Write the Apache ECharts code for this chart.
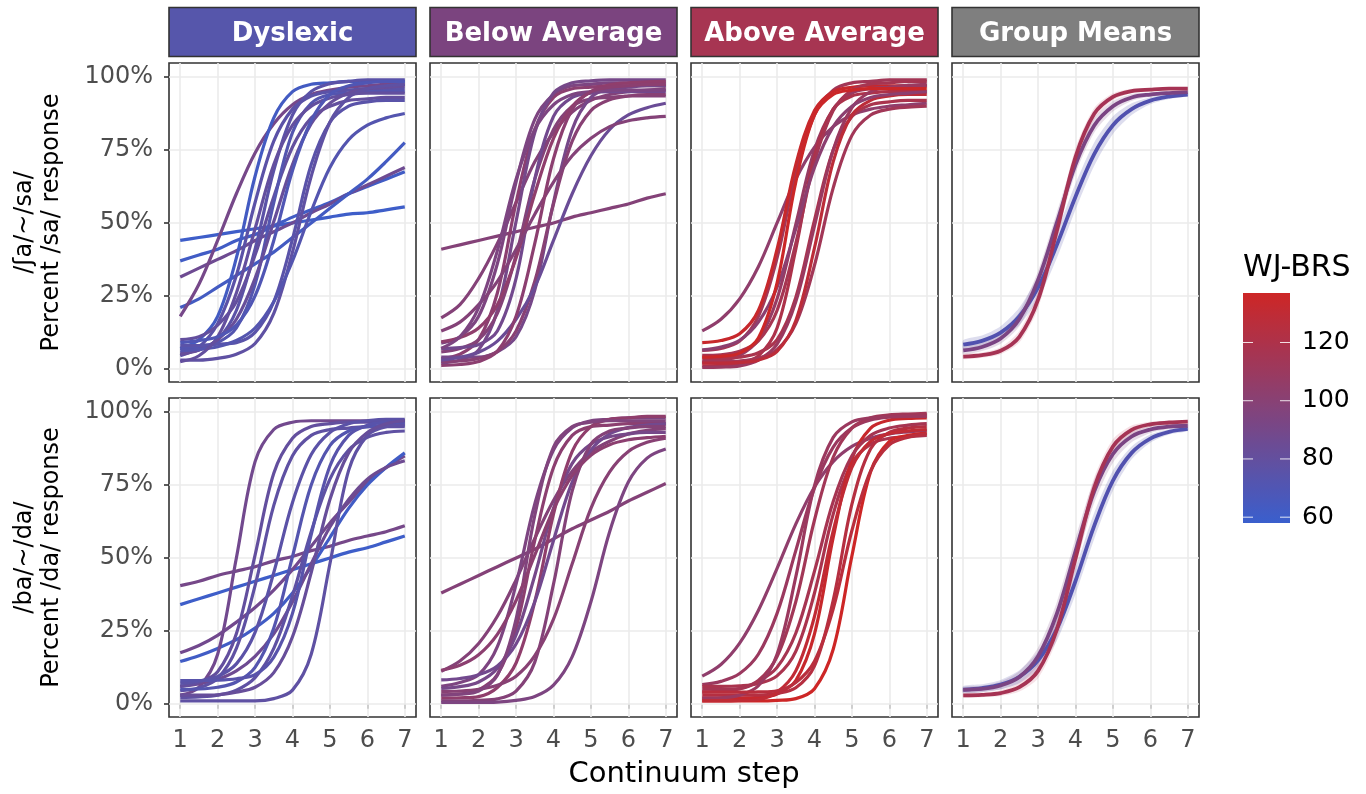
<!DOCTYPE html>
<html><head><meta charset="utf-8">
<script src="https://cdn.jsdelivr.net/npm/echarts@6.0.0/dist/echarts.min.js"></script>
<style>html,body{margin:0;padding:0;background:#fff}#c{width:1366px;height:794px}</style>
</head><body><div id="c"></div><script>
// ---------- data ----------
const STEPS = [1,1.5,2,2.5,3,3.5,4,4.5,5,5.5,6,6.5,7];
const X_TICKS = [1,2,3,4,5,6,7];
const Y_TICKS = [0,0.25,0.5,0.75,1];
const GROUPS = ['Dyslexic','Below Average','Above Average','Group Means'];
const ROW_TITLES = ['/ʃa/~/sa/\nPercent /sa/ response','/ba/~/da/\nPercent /da/ response'];
const X_TITLE = 'Continuum step';
const LEGEND_TITLE = 'WJ-BRS';
const WJ_TICKS = [60,80,100,120];
const WJ_RANGE = [58,137];

// /ʃa/~/sa/ — Dyslexic
const SA_DYS_WJ = [60,62,86,63,90,63,76,76,80,72,82,75,78,72,80,70];
const SA_DYS_P = [
 [0.44,0.45,0.46,0.47,0.48,0.49,0.50,0.51,0.52,0.53,0.535,0.545,0.555],
 [0.37,0.39,0.41,0.44,0.46,0.49,0.52,0.545,0.57,0.60,0.625,0.65,0.675],
 [0.315,0.345,0.375,0.405,0.44,0.47,0.50,0.535,0.565,0.60,0.63,0.66,0.69],
 [0.21,0.24,0.28,0.32,0.36,0.40,0.45,0.50,0.55,0.60,0.65,0.71,0.775],
 [0.18,0.29,0.44,0.60,0.74,0.84,0.905,0.94,0.955,0.965,0.97,0.975,0.975],
 [0.07,0.10,0.18,0.38,0.66,0.86,0.95,0.975,0.98,0.985,0.985,0.985,0.985],
 [0.045,0.075,0.155,0.32,0.57,0.78,0.89,0.935,0.95,0.955,0.96,0.96,0.96],
 [0.055,0.065,0.10,0.20,0.41,0.68,0.87,0.95,0.977,0.985,0.99,0.99,0.99],
 [0.10,0.11,0.15,0.23,0.39,0.59,0.76,0.86,0.90,0.92,0.925,0.93,0.93],
 [0.07,0.075,0.09,0.14,0.29,0.57,0.81,0.91,0.94,0.945,0.95,0.95,0.95],
 [0.05,0.065,0.10,0.17,0.31,0.505,0.70,0.84,0.91,0.945,0.96,0.965,0.97],
 [0.08,0.08,0.085,0.09,0.125,0.23,0.445,0.70,0.845,0.90,0.915,0.92,0.92],
 [0.03,0.03,0.036,0.05,0.087,0.19,0.40,0.66,0.845,0.93,0.96,0.97,0.975],
 [0.063,0.067,0.076,0.097,0.14,0.23,0.37,0.54,0.69,0.785,0.835,0.86,0.875],
 [0.025,0.045,0.11,0.26,0.48,0.70,0.835,0.90,0.928,0.94,0.945,0.945,0.945],
 [0.09,0.097,0.11,0.15,0.25,0.44,0.68,0.85,0.94,0.97,0.98,0.985,0.985]
];
// /ʃa/~/sa/ — Below Average
const SA_BEL_WJ = [98,98,94,102,90,98,88,104,90,100,84,98,94,102];
const SA_BEL_P = [
 [0.41,0.425,0.44,0.455,0.47,0.485,0.50,0.52,0.535,0.55,0.565,0.585,0.60],
 [0.175,0.22,0.31,0.43,0.57,0.71,0.81,0.88,0.92,0.94,0.95,0.955,0.96],
 [0.088,0.11,0.18,0.36,0.64,0.855,0.94,0.97,0.975,0.98,0.98,0.98,0.98],
 [0.035,0.05,0.10,0.26,0.57,0.82,0.93,0.96,0.965,0.97,0.97,0.97,0.97],
 [0.02,0.03,0.065,0.20,0.505,0.81,0.945,0.98,0.987,0.99,0.99,0.99,0.99],
 [0.058,0.07,0.10,0.19,0.39,0.65,0.82,0.90,0.925,0.93,0.935,0.935,0.935],
 [0.07,0.073,0.083,0.13,0.31,0.65,0.865,0.93,0.945,0.95,0.95,0.95,0.95],
 [0.093,0.107,0.14,0.22,0.38,0.60,0.79,0.90,0.95,0.973,0.98,0.983,0.985],
 [0.04,0.04,0.04,0.058,0.11,0.27,0.57,0.82,0.93,0.96,0.965,0.97,0.97],
 [0.025,0.027,0.036,0.06,0.13,0.30,0.565,0.78,0.885,0.922,0.935,0.94,0.94],
 [0.03,0.04,0.057,0.095,0.17,0.28,0.44,0.60,0.73,0.82,0.87,0.895,0.91],
 [0.13,0.16,0.22,0.30,0.41,0.53,0.64,0.73,0.79,0.83,0.85,0.86,0.865],
 [0.07,0.11,0.21,0.405,0.65,0.82,0.905,0.94,0.95,0.955,0.955,0.955,0.955],
 [0.012,0.015,0.025,0.06,0.18,0.43,0.72,0.89,0.95,0.965,0.97,0.975,0.975]
];
// /ʃa/~/sa/ — Above Average
const SA_ABV_WJ = [104,114,134,108,120,116,118,110,114,128,102,136];
const SA_ABV_P = [
 [0.13,0.17,0.24,0.35,0.50,0.65,0.76,0.83,0.87,0.89,0.90,0.905,0.91],
 [0.063,0.07,0.095,0.18,0.38,0.67,0.87,0.955,0.98,0.985,0.99,0.99,0.99],
 [0.09,0.097,0.12,0.20,0.41,0.70,0.885,0.95,0.965,0.97,0.97,0.97,0.97],
 [0.022,0.028,0.046,0.10,0.24,0.495,0.75,0.89,0.945,0.96,0.965,0.97,0.97],
 [0.01,0.012,0.018,0.044,0.14,0.41,0.73,0.89,0.935,0.945,0.95,0.95,0.95],
 [0.046,0.048,0.06,0.096,0.20,0.43,0.71,0.885,0.955,0.976,0.98,0.985,0.985],
 [0.035,0.036,0.04,0.055,0.10,0.245,0.51,0.75,0.865,0.905,0.915,0.92,0.92],
 [0.005,0.006,0.01,0.03,0.085,0.23,0.49,0.75,0.895,0.95,0.965,0.972,0.975],
 [0.025,0.025,0.027,0.037,0.066,0.155,0.355,0.62,0.80,0.87,0.89,0.897,0.90],
 [0.02,0.02,0.022,0.03,0.06,0.165,0.415,0.71,0.87,0.92,0.935,0.94,0.94],
 [0.065,0.075,0.098,0.16,0.28,0.48,0.69,0.83,0.90,0.93,0.94,0.945,0.95],
 [0.04,0.043,0.054,0.106,0.295,0.64,0.87,0.94,0.955,0.96,0.96,0.96,0.96]
];
// /ba/~/da/ — Dyslexic
const BA_DYS_WJ = [90,60,88,62,86,88,80,78,76,72,78,74,78,82];
const BA_DYS_P = [
 [0.405,0.42,0.44,0.455,0.47,0.49,0.505,0.525,0.54,0.56,0.575,0.59,0.61],
 [0.34,0.36,0.38,0.40,0.42,0.44,0.46,0.48,0.50,0.52,0.535,0.555,0.575],
 [0.175,0.20,0.235,0.28,0.33,0.39,0.46,0.54,0.62,0.69,0.76,0.81,0.85],
 [0.145,0.165,0.19,0.22,0.26,0.31,0.38,0.47,0.57,0.67,0.75,0.81,0.86],
 [0.06,0.068,0.084,0.113,0.163,0.24,0.35,0.48,0.606,0.70,0.77,0.81,0.833],
 [0.03,0.057,0.17,0.50,0.83,0.94,0.965,0.97,0.97,0.97,0.97,0.97,0.97],
 [0.06,0.074,0.11,0.24,0.51,0.79,0.91,0.95,0.96,0.965,0.965,0.965,0.965],
 [0.045,0.055,0.087,0.19,0.405,0.68,0.85,0.92,0.94,0.945,0.95,0.95,0.95],
 [0.07,0.078,0.094,0.137,0.245,0.45,0.69,0.854,0.93,0.96,0.97,0.975,0.975],
 [0.05,0.051,0.057,0.075,0.125,0.26,0.505,0.75,0.885,0.935,0.95,0.955,0.96],
 [0.022,0.024,0.03,0.047,0.09,0.19,0.37,0.59,0.77,0.87,0.913,0.93,0.935],
 [0.08,0.08,0.081,0.086,0.10,0.16,0.31,0.58,0.815,0.92,0.955,0.965,0.97],
 [0.01,0.01,0.01,0.01,0.01,0.018,0.047,0.17,0.48,0.80,0.92,0.95,0.955],
 [0.03,0.03,0.031,0.04,0.057,0.107,0.23,0.45,0.70,0.86,0.93,0.96,0.97]
];
// /ba/~/da/ — Below Average
const BA_BEL_WJ = [98,98,94,102,90,104,88,98,94,100,96,102];
const BA_BEL_P = [
 [0.38,0.41,0.44,0.47,0.50,0.53,0.565,0.60,0.63,0.66,0.695,0.725,0.755],
 [0.112,0.147,0.207,0.30,0.425,0.567,0.697,0.797,0.863,0.90,0.925,0.937,0.943],
 [0.06,0.073,0.10,0.196,0.41,0.685,0.87,0.946,0.97,0.975,0.98,0.98,0.98],
 [0.031,0.034,0.048,0.10,0.26,0.56,0.81,0.92,0.95,0.955,0.96,0.96,0.96],
 [0.053,0.059,0.075,0.122,0.236,0.44,0.67,0.824,0.89,0.915,0.925,0.93,0.93],
 [0.02,0.021,0.025,0.056,0.14,0.35,0.65,0.865,0.95,0.975,0.98,0.985,0.985],
 [0.082,0.087,0.10,0.13,0.205,0.35,0.56,0.76,0.87,0.925,0.947,0.955,0.96],
 [0.01,0.01,0.012,0.017,0.044,0.143,0.41,0.73,0.89,0.935,0.945,0.95,0.95],
 [0.005,0.005,0.005,0.006,0.012,0.025,0.064,0.162,0.35,0.59,0.76,0.842,0.873],
 [0.042,0.044,0.05,0.064,0.095,0.165,0.29,0.48,0.67,0.795,0.865,0.896,0.91],
 [0.03,0.033,0.044,0.098,0.29,0.646,0.88,0.95,0.965,0.97,0.97,0.97,0.97],
 [0.115,0.132,0.168,0.238,0.354,0.51,0.666,0.782,0.852,0.888,0.905,0.912,0.917]
];
// /ba/~/da/ — Above Average
const BA_ABV_WJ = [104,110,114,118,134,124,137,116,110,130,126];
const BA_ABV_P = [
 [0.095,0.135,0.208,0.32,0.464,0.616,0.743,0.83,0.882,0.91,0.925,0.932,0.937],
 [0.066,0.077,0.104,0.17,0.31,0.525,0.74,0.88,0.946,0.973,0.983,0.987,0.99],
 [0.041,0.044,0.052,0.08,0.162,0.35,0.63,0.845,0.945,0.98,0.99,0.993,0.995],
 [0.06,0.06,0.062,0.07,0.096,0.18,0.38,0.65,0.825,0.89,0.91,0.915,0.92],
 [0.02,0.02,0.02,0.022,0.034,0.08,0.24,0.57,0.84,0.945,0.972,0.978,0.98],
 [0.03,0.03,0.03,0.03,0.036,0.055,0.13,0.355,0.684,0.874,0.93,0.945,0.95],
 [0.01,0.01,0.01,0.01,0.012,0.018,0.052,0.187,0.507,0.795,0.899,0.92,0.928],
 [0.05,0.05,0.052,0.076,0.125,0.242,0.455,0.693,0.85,0.92,0.945,0.955,0.96],
 [0.02,0.021,0.03,0.062,0.17,0.435,0.748,0.913,0.966,0.98,0.983,0.985,0.985],
 [0.01,0.01,0.012,0.015,0.04,0.113,0.30,0.593,0.81,0.90,0.926,0.935,0.94],
 [0.04,0.04,0.04,0.041,0.045,0.073,0.146,0.326,0.594,0.798,0.888,0.914,0.925]
];
// Group means (Dyslexic, Below Average, Above Average) and ribbon half-widths
const SA_MEAN_DYS = [0.083,0.096,0.124,0.18,0.279,0.424,0.59,0.736,0.835,0.89,0.919,0.933,0.94];
const SA_MEAN_BEL = [0.063,0.075,0.104,0.171,0.305,0.50,0.70,0.834,0.90,0.93,0.94,0.945,0.948];
const SA_MEAN_ABV = [0.042,0.047,0.062,0.11,0.237,0.472,0.726,0.874,0.932,0.952,0.957,0.96,0.96];
const BA_MEAN_DYS = [0.049,0.054,0.066,0.093,0.149,0.256,0.421,0.61,0.765,0.86,0.909,0.932,0.942];
const BA_MEAN_BEL = [0.048,0.051,0.063,0.092,0.163,0.308,0.523,0.728,0.856,0.916,0.94,0.95,0.953];
const BA_MEAN_ABV = [0.029,0.031,0.037,0.057,0.113,0.254,0.498,0.741,0.882,0.939,0.958,0.964,0.967];
const SA_BAND_DYS = [0.015,0.018,0.022,0.03,0.04,0.045,0.045,0.04,0.03,0.02,0.012,0.008,0.006];
const SA_BAND_BEL = [0.012,0.014,0.018,0.025,0.03,0.035,0.03,0.025,0.018,0.012,0.008,0.005,0.004];
const SA_BAND_ABV = [0.008,0.009,0.012,0.02,0.03,0.035,0.03,0.02,0.012,0.008,0.005,0.004,0.003];
const BA_BAND_DYS = [0.012,0.013,0.016,0.022,0.03,0.04,0.045,0.045,0.035,0.022,0.014,0.009,0.007];
const BA_BAND_BEL = [0.01,0.011,0.014,0.02,0.03,0.04,0.045,0.04,0.03,0.02,0.012,0.008,0.006];
const BA_BAND_ABV = [0.007,0.008,0.01,0.015,0.025,0.035,0.04,0.035,0.025,0.015,0.009,0.006,0.004];

// ---------- styling ----------
const FONT = 'DejaVu Sans';
const STRIP_COLORS = ['#5656ab','#7b447f','#a73552','#7f7f7f'];
const MEAN_COLORS = ['#5151af','#7b4483','#a63354'];
const BAND_COLORS = ['rgba(86,86,171,0.2)','rgba(123,68,127,0.18)','rgba(200,70,100,0.16)'];
const LOW_COL = '#3A5FCD', HIGH_COL = '#CD2626';
const LEFTS = [169,430,691,952], PW = 247, TOPS = [63,398], PH = 319;

function hex2rgb(h){return [1,3,5].map(i=>parseInt(h.substr(i,2),16));}
const RGB_LO = hex2rgb(LOW_COL), RGB_HI = hex2rgb(HIGH_COL);
function wjColor(s){let t=(s-WJ_RANGE[0])/(WJ_RANGE[1]-WJ_RANGE[0]);t=Math.max(0,Math.min(1,t));
 return 'rgb('+RGB_LO.map((v,i)=>Math.round(v+(RGB_HI[i]-v)*t)).join(',')+')';}

const PANEL_DATA = [
 [[SA_DYS_WJ,SA_DYS_P],[SA_BEL_WJ,SA_BEL_P],[SA_ABV_WJ,SA_ABV_P]],
 [[BA_DYS_WJ,BA_DYS_P],[BA_BEL_WJ,BA_BEL_P],[BA_ABV_WJ,BA_ABV_P]]
];
const MEANS = [[SA_MEAN_DYS,SA_MEAN_BEL,SA_MEAN_ABV],[BA_MEAN_DYS,BA_MEAN_BEL,BA_MEAN_ABV]];
const BANDS = [[SA_BAND_DYS,SA_BAND_BEL,SA_BAND_ABV],[BA_BAND_DYS,BA_BAND_BEL,BA_BAND_ABV]];

const grids=[], xAxes=[], yAxes=[], series=[];
for(let r=0;r<2;r++){
 for(let c=0;c<4;c++){
  const gi=r*4+c;
  grids.push({left:LEFTS[c],top:TOPS[r],width:PW,height:PH,show:true,borderColor:'#333',borderWidth:1.6,backgroundColor:'#fff',containLabel:false});
  xAxes.push({gridIndex:gi,type:'value',min:0.7,max:7.3,splitLine:{show:false},axisLine:{show:false},
   axisTick:{show:r===1,customValues:X_TICKS,length:5,lineStyle:{color:'#333',width:1.6}},
   axisLabel:{show:r===1,customValues:X_TICKS,color:'#4d4d4d',fontSize:24,fontFamily:FONT,margin:12}});
  yAxes.push({gridIndex:gi,type:'value',min:-0.045,max:1.048,splitLine:{show:false},axisLine:{show:false},
   axisTick:{show:c===0,customValues:Y_TICKS,length:5,lineStyle:{color:'#333',width:1.6}},
   axisLabel:{show:c===0,customValues:Y_TICKS,color:'#4d4d4d',fontSize:24,fontFamily:FONT,margin:16,formatter:v=>Math.round(v*100)+'%'}});
  // grid lines through the axes' scales
  series.push({type:'line',xAxisIndex:gi,yAxisIndex:gi,data:[[1,0]],symbol:'none',lineStyle:{opacity:0},silent:true,z:1,
   markLine:{z:1,silent:true,symbol:['none','none'],label:{show:false},emphasis:{disabled:true},
    lineStyle:{color:'#ebebeb',width:1.6,type:'solid'},
    data:[...X_TICKS.map(v=>({xAxis:v})),...Y_TICKS.map(v=>({yAxis:v}))]}});
  if(c<3){
   const [wj,P]=PANEL_DATA[r][c];
   P.forEach((vals,k)=>{
    series.push({type:'line',xAxisIndex:gi,yAxisIndex:gi,smooth:0.35,symbol:'none',silent:true,z:3,
     lineStyle:{color:wjColor(wj[k]),width:3.2},data:STEPS.map((x,i)=>[x,vals[i]])});
   });
  } else {
   for(let k=0;k<3;k++){
    const m=MEANS[r][k], w=BANDS[r][k], col=BAND_COLORS[k];
    const ring=STEPS.map((x,i)=>[x,m[i]+w[i]]).concat(STEPS.map((x,i)=>[x,m[i]-w[i]]).reverse());
    series.push({type:'custom',xAxisIndex:gi,yAxisIndex:gi,silent:true,z:2,clip:true,
     data:[0],
     renderItem:(params,api)=>({type:'polygon',shape:{points:ring.map(p=>api.coord(p)),smooth:0.25},style:{fill:col}})});
   }
   for(let k=0;k<3;k++){
    const m=MEANS[r][k];
    series.push({type:'line',xAxisIndex:gi,yAxisIndex:gi,smooth:0.35,symbol:'none',silent:true,z:3,
     lineStyle:{color:MEAN_COLORS[k],width:3.8},data:STEPS.map((x,i)=>[x,m[i]])});
   }
  }
 }
}

// ---------- graphic furniture ----------
const graphics=[];
GROUPS.forEach((g,c)=>{
 graphics.push({type:'rect',shape:{x:LEFTS[c],y:7.5,width:PW,height:49},style:{fill:STRIP_COLORS[c],stroke:'#333',lineWidth:1.6}});
 graphics.push({type:'text',x:LEFTS[c]+PW/2,y:34,style:{text:g,fill:'#fff',font:'bold 26px "DejaVu Sans"',align:'center',verticalAlign:'middle',textAlign:'center',textVerticalAlign:'middle'}});
});
ROW_TITLES.forEach((t,r)=>{
 graphics.push({type:'text',x:38,y:TOPS[r]+PH/2,rotation:Math.PI/2,style:{text:t,fill:'#000',font:'24px "DejaVu Sans"',lineHeight:27,align:'center',verticalAlign:'middle',textAlign:'center',textVerticalAlign:'middle'}});
});
graphics.push({type:'text',x:(LEFTS[0]+LEFTS[3]+PW)/2,y:774,style:{text:X_TITLE,fill:'#000',font:'29px "DejaVu Sans"',align:'center',verticalAlign:'middle',textAlign:'center',textVerticalAlign:'middle'}});
// colour bar
const CB={x:1243,y:293,w:47,h:230};
const stops=[];
for(let i=0;i<=20;i++){const v=WJ_RANGE[1]-(WJ_RANGE[1]-WJ_RANGE[0])*i/20;stops.push({offset:i/20,color:wjColor(v)});}
graphics.push({type:'rect',shape:{x:CB.x,y:CB.y,width:CB.w,height:CB.h},style:{fill:new echarts.graphic.LinearGradient(0,0,0,1,stops)}});
WJ_TICKS.forEach(v=>{
 const y=CB.y+CB.h*(WJ_RANGE[1]-v)/(WJ_RANGE[1]-WJ_RANGE[0]);
 graphics.push({type:'line',shape:{x1:CB.x,y1:y,x2:CB.x+10,y2:y},style:{stroke:'rgba(255,255,255,0.85)',lineWidth:1}});
 graphics.push({type:'line',shape:{x1:CB.x+CB.w-10,y1:y,x2:CB.x+CB.w,y2:y},style:{stroke:'rgba(255,255,255,0.85)',lineWidth:1}});
 graphics.push({type:'text',x:1302,y:y,style:{text:String(v),fill:'#000',font:'25px "DejaVu Sans"',align:'left',verticalAlign:'middle',textAlign:'left',textVerticalAlign:'middle'}});
});
graphics.push({type:'text',x:1243,y:268,style:{text:LEGEND_TITLE,fill:'#000',font:'30px "DejaVu Sans"',align:'left',verticalAlign:'middle',textAlign:'left',textVerticalAlign:'middle'}});

const chart=echarts.init(document.getElementById('c'),null,{renderer:'canvas'});
chart.setOption({animation:false,backgroundColor:'#fff',textStyle:{fontFamily:FONT},
 grid:grids,xAxis:xAxes,yAxis:yAxes,series:series,graphic:{elements:graphics}});
</script></body></html>
